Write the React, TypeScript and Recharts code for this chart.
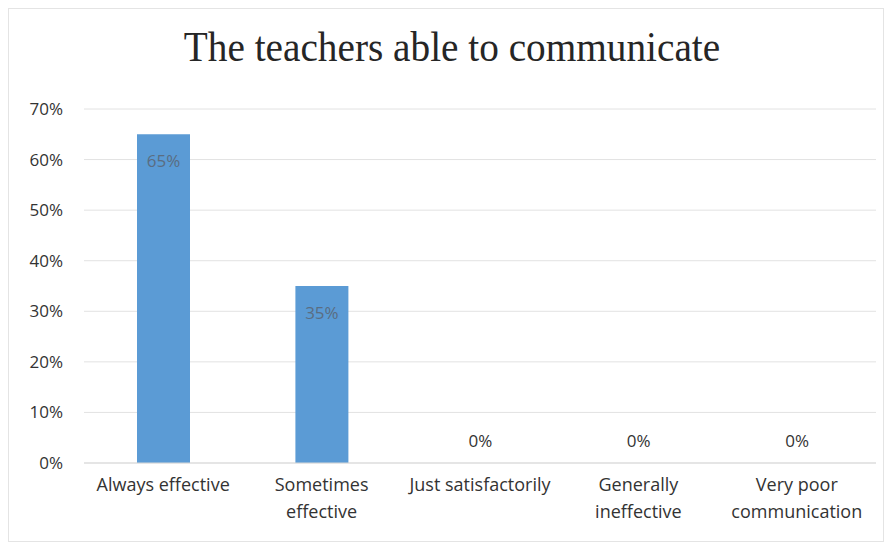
import { BarChart, Bar, XAxis, YAxis, CartesianGrid, LabelList, Rectangle } from "recharts";

const categories = [
  "Always effective",
  "Sometimes effective",
  "Just satisfactorily",
  "Generally ineffective",
  "Very poor communication",
];
const shares = [0.65, 0.35, 0, 0, 0];
const yTicks = [0, 0.1, 0.2, 0.3, 0.4, 0.5, 0.6, 0.7];

const data = categories.map((name, i) => ({ name, value: shares[i] }));

const pct = (v: number) => `${Math.round(v * 100)}%`;

const FONT = "'Open Sans', sans-serif";

// labels that Excel wrapped onto two lines
const wrapped: Record<string, string[]> = {
  "Sometimes effective": ["Sometimes", "effective"],
  "Generally ineffective": ["Generally", "ineffective"],
  "Very poor communication": ["Very poor", "communication"],
};

function CategoryTick(props: any) {
  const { x, y, payload } = props;
  const lines = wrapped[payload.value] || [payload.value];
  return (
    <text x={x} y={y} textAnchor="middle" fill="#333" fontSize={18} fontFamily={FONT}>
      {lines.map((l, i) => (
        <tspan key={i} x={x} dy={i === 0 ? 18 : 27}>
          {l}
        </tspan>
      ))}
    </text>
  );
}

function ValueLabel(props: any) {
  const { x, y, width, value } = props;
  const cx = x + width / 2;
  if (!value) {
    return (
      <text x={cx} y={y - 16} textAnchor="middle" fill="#333" fontSize={17} fontFamily={FONT}>
        {pct(value)}
      </text>
    );
  }
  return (
    <text x={cx} y={y + 33} textAnchor="middle" fill="#5a6d82" fontSize={17} fontFamily={FONT}>
      {pct(value)}
    </text>
  );
}

function BarShape(props: any) {
  if (!props.value) return <g />;
  return <Rectangle {...props} />;
}

export default function App() {
  return (
    <div style={{ position: "absolute", left: 0, top: 0, width: 886, height: 544, background: "#fff" }}>
      <div
        style={{
          position: "absolute",
          left: 8,
          top: 8,
          width: 876,
          height: 534,
          border: "1px solid #e4e4e4",
          boxSizing: "border-box",
        }}
      />
      <div
        style={{
          position: "absolute",
          left: 0,
          top: 20,
          width: 904,
          textAlign: "center",
          fontFamily: "'Liberation Serif', 'DejaVu Serif', serif",
          fontSize: 42,
          color: "#262626",
          lineHeight: "54px",
          transform: "scaleX(0.935)",
        }}
      >
        The teachers able to communicate
      </div>
      <BarChart
        width={886}
        height={544}
        data={data}
        margin={{ top: 109, right: 10, bottom: 21, left: 0 }}
        barSize={53}
      >
        <CartesianGrid vertical={false} stroke="#e2e2e2" />
        <XAxis
          dataKey="name"
          tick={<CategoryTick />}
          tickLine={false}
          axisLine={{ stroke: "#d9d9d9" }}
          interval={0}
          height={60}
          tickMargin={4}
        />
        <YAxis
          domain={[0, 0.7]}
          ticks={yTicks}
          tickFormatter={pct}
          tickLine={false}
          axisLine={false}
          width={84}
          tickSize={0}
          tickMargin={21}
          tick={{ fill: "#333", fontSize: 17, fontFamily: FONT }}
        />
        <Bar dataKey="value" fill="#5b9bd5" minPointSize={0.5} shape={<BarShape />} isAnimationActive={false}>
          <LabelList dataKey="value" content={<ValueLabel />} />
        </Bar>
      </BarChart>
    </div>
  );
}
